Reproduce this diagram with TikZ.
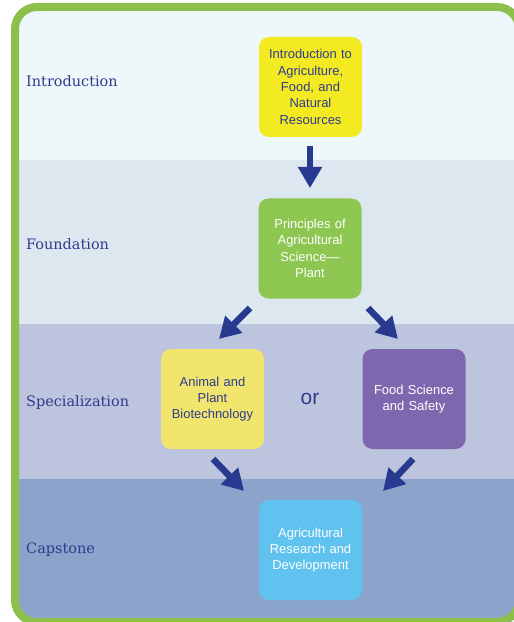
\documentclass[tikz,border=0pt]{standalone}
\usepackage{fontspec}
\newfontfamily\boxfont[Ligatures=TeX]{Liberation Sans}
\newfontfamily\stagefont{DejaVu Serif}
\usetikzlibrary{arrows.meta}
\definecolor{bandA}{HTML}{EEF7FA}
\definecolor{bandB}{HTML}{DDE7F0}
\definecolor{bandC}{HTML}{BCC4DE}
\definecolor{bandD}{HTML}{8AA4CC}
\definecolor{bordergreen}{HTML}{8CC04B}
\definecolor{boxyellow}{HTML}{F3EA22}
\definecolor{boxgreen}{HTML}{8DC651}
\definecolor{boxpale}{HTML}{F1E56E}
\definecolor{boxpurple}{HTML}{7E67AE}
\definecolor{boxcyan}{HTML}{5FC2EF}
\definecolor{navy}{HTML}{283A90}
\definecolor{labelnavy}{HTML}{2E3B8E}
\begin{document}
\begin{tikzpicture}[x=1bp,y=-1bp,
  box/.style={rounded corners=10bp, minimum width=103bp, minimum height=100bp,
    text width=95bp, align=center, inner sep=0pt,
    font=\boxfont\fontsize{13}{16.4}\selectfont},
  stage/.style={anchor=base west, text=labelnavy, inner sep=0pt,
    font=\stagefont\fontsize{14.5}{17}\selectfont},
  arr/.style={draw=navy, line width=6.5bp, -{Triangle[length=21bp,width=23bp]}}]
\useasboundingbox (0,0) rectangle (514,622);
\begin{scope}
  \clip[rounded corners=22bp] (15,7) rectangle (519,622);
  \fill[bandA] (0,0) rectangle (520,160);
  \fill[bandB] (0,160) rectangle (520,324);
  \fill[bandC] (0,324) rectangle (520,479);
  \fill[bandD] (0,479) rectangle (520,630);
\end{scope}
\draw[bordergreen, line width=8bp, rounded corners=22bp] (15,7) rectangle (519,622);

\node[stage] (lintro) at (26,87) {Introduction};
\node[stage] (lfound) at (26,249) {Foundation};
\node[stage] (lspec) at (26,406) {Specialization};
\node[stage] (lcap) at (26,553) {Capstone};

\node[box, fill=boxyellow, text=labelnavy] (intro) at (310.5,87) {Introduction to\\Agriculture,\\Food, and\\Natural\\Resources};
\node[box, fill=boxgreen, text=white] (found) at (310,248.5) {Principles of\\Agricultural\\Science—\\Plant};
\node[box, fill=boxpale, text=labelnavy] (animal) at (212.5,399) {Animal and\\Plant\\Biotechnology};
\node[box, fill=boxpurple, text=white] (food) at (414,399) {Food Science\\and Safety};
\node[box, fill=boxcyan, text=white] (agri) at (310.5,550) {Agricultural\\Research and\\Development};
\node[text=labelnavy, font=\boxfont\fontsize{21}{23}\selectfont, inner sep=0pt] (or) at (310,399) {or};

\coordinate (a1s) at (310,146); \coordinate (a1e) at (310,188);
\coordinate (a2s) at (250,308); \coordinate (a2e) at (219,339);
\coordinate (a3s) at (368,308); \coordinate (a3e) at (398,339);
\coordinate (a4s) at (213,459); \coordinate (a4e) at (244,491);
\coordinate (a5s) at (413,459); \coordinate (a5e) at (383,491);
\draw[arr] (a1s) -- (a1e);
\draw[arr] (a2s) -- (a2e);
\draw[arr] (a3s) -- (a3e);
\draw[arr] (a4s) -- (a4e);
\draw[arr] (a5s) -- (a5e);
\end{tikzpicture}
\end{document}
